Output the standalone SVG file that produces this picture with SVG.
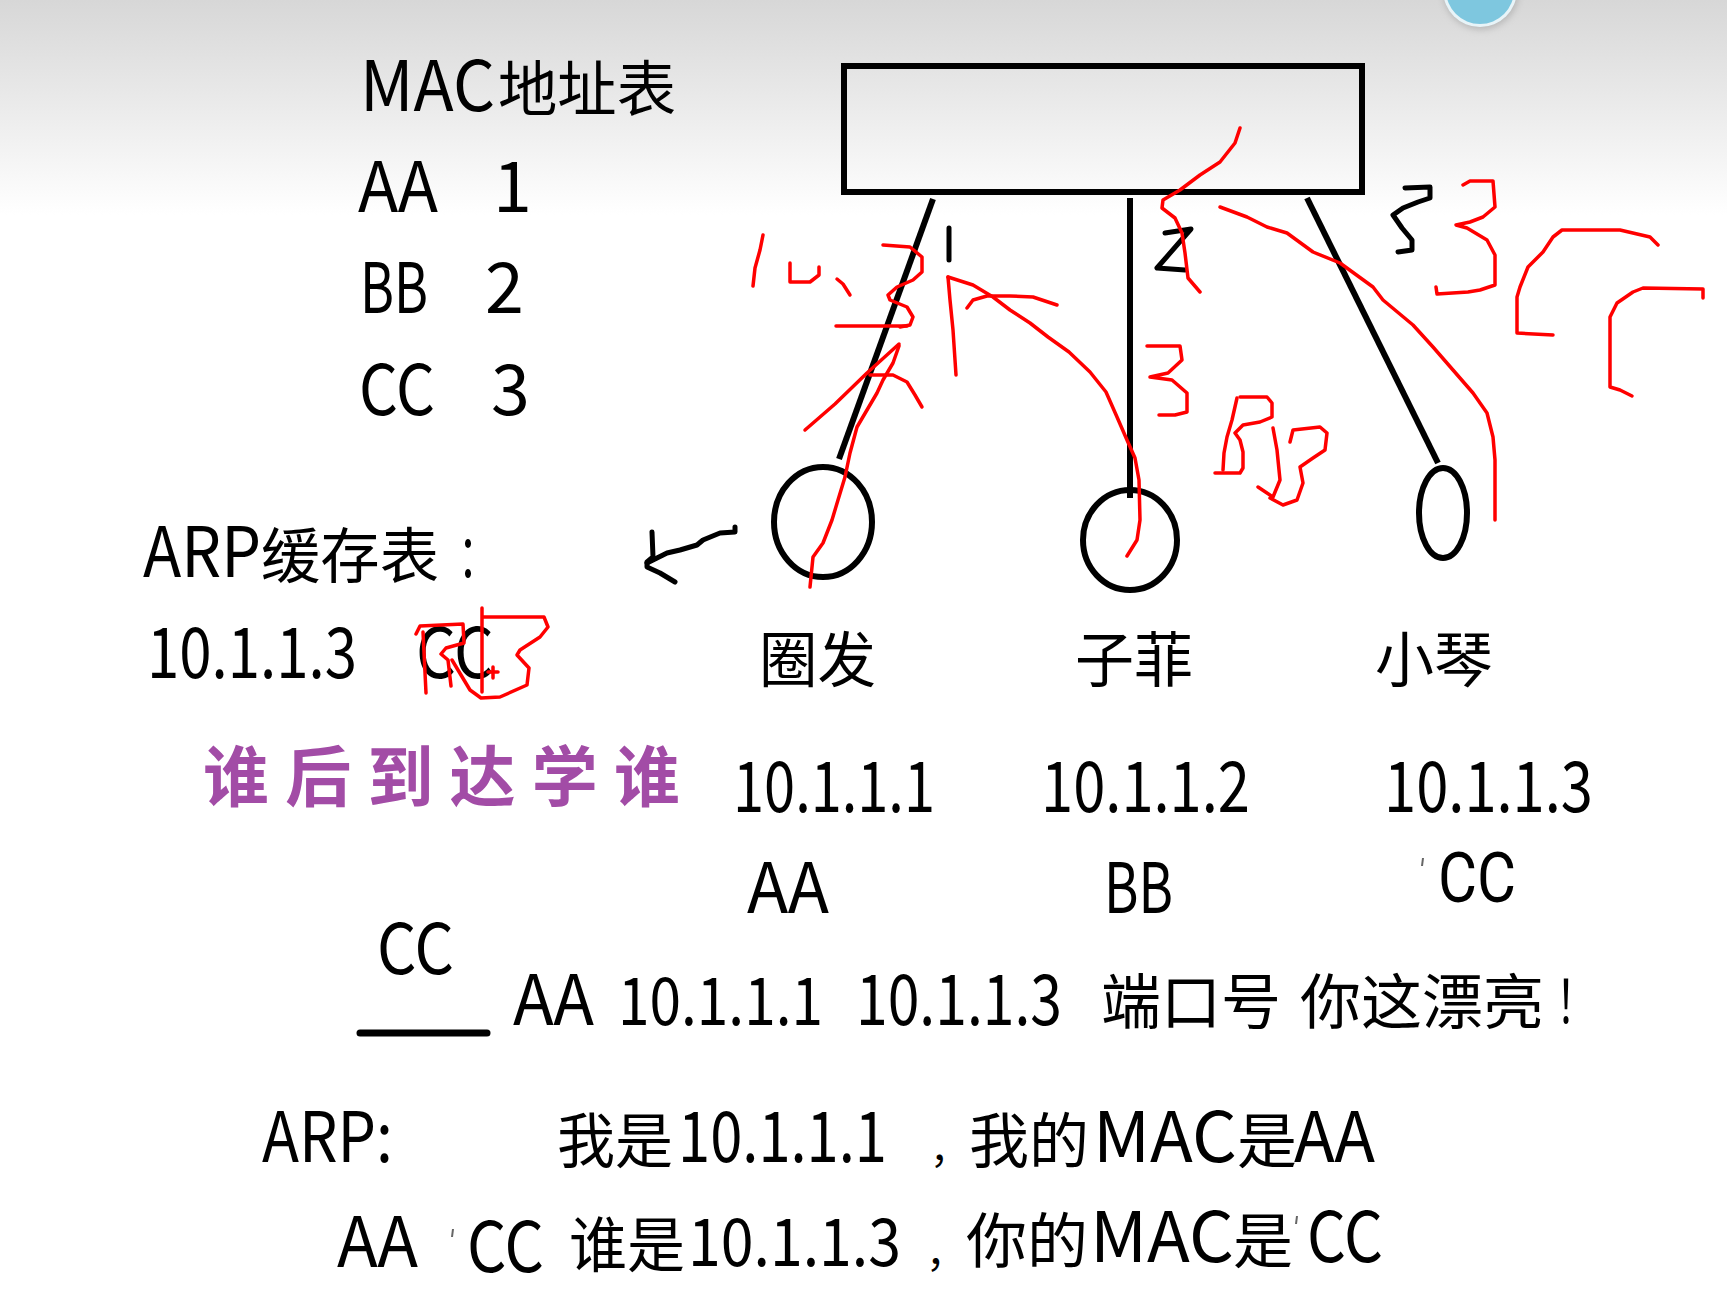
<svg xmlns="http://www.w3.org/2000/svg" width="1727" height="1314" viewBox="0 0 1727 1314">
<defs>
<linearGradient id="bg" gradientUnits="userSpaceOnUse" x1="0" y1="0" x2="0" y2="215">
<stop offset="0" stop-color="#d7d7d7"/>
<stop offset="0.5" stop-color="#ebebeb"/>
<stop offset="1" stop-color="#ffffff"/>
</linearGradient>
<filter id="sh" x="-50%" y="-50%" width="200%" height="200%"><feGaussianBlur stdDeviation="3"/></filter>
</defs>
<style>
.k{font-family:"Noto Sans CJK SC","Liberation Sans",sans-serif;fill:#000;font-size:70px}
.c{font-family:"Noto Sans CJK SC","Liberation Sans",sans-serif;fill:#000;font-size:60px}
.r{font-family:Roboto,"Noto Sans CJK SC",sans-serif;fill:#000;font-size:70px}
.p{font-family:"Noto Sans CJK SC",sans-serif;fill:#a24ca6;font-size:66px;font-weight:bold}
.red{fill:none;stroke:#ff0000;stroke-width:3.5;stroke-linecap:round;stroke-linejoin:round}
.ink{fill:none;stroke:#000;stroke-width:5;stroke-linecap:round;stroke-linejoin:round}
.wire{fill:none;stroke:#000;stroke-width:6;stroke-linecap:butt}
.node{fill:none;stroke:#000;stroke-width:6}
.tick{stroke:#666;stroke-width:2}
</style>
<g id="background">
<rect x="0" y="0" width="1727" height="1314" fill="#fff"/>
<rect x="0" y="0" width="1727" height="215" fill="url(#bg)"/>
<circle cx="1481" cy="-8" r="38" fill="#9a9a9a" opacity="0.5" filter="url(#sh)"/>
<circle cx="1480" cy="-10" r="37" fill="#e8f4f8"/>
<circle cx="1480" cy="-10" r="34" fill="#7ec7df"/>
</g>
<g id="mac-table">
<text class="k" x="360" y="111" textLength="135" lengthAdjust="spacingAndGlyphs">MAC</text>
<text class="c" x="498" y="111" textLength="178" lengthAdjust="spacingAndGlyphs">地址表</text>
<text class="k" x="358" y="212" textLength="80" lengthAdjust="spacingAndGlyphs">AA</text>
<text class="k" x="493" y="212">1</text>
<text class="k" x="360" y="313" textLength="68" lengthAdjust="spacingAndGlyphs">BB</text>
<text class="k" x="485" y="313">2</text>
<text class="k" x="359" y="415" textLength="76" lengthAdjust="spacingAndGlyphs">CC</text>
<text class="k" x="491" y="415">3</text>
</g>
<g id="arp-cache">
<text class="k" x="143" y="577" textLength="118" lengthAdjust="spacingAndGlyphs">ARP</text>
<text class="c" x="261" y="578" textLength="178" lengthAdjust="spacingAndGlyphs">缓存表</text>
<text class="c" x="458" y="578" textLength="40" lengthAdjust="spacingAndGlyphs">：</text>
<text class="k" x="147" y="678" textLength="210" lengthAdjust="spacingAndGlyphs">10.1.1.3</text>
<text class="k" x="416" y="678" textLength="78" lengthAdjust="spacingAndGlyphs">CC</text>
</g>
<g id="slogan">
<text class="p" x="203" y="801" textLength="477" lengthAdjust="spacing">谁后到达学谁</text>
</g>
<g id="switch">
<rect x="844" y="66" width="518" height="126" fill="none" stroke="#000" stroke-width="6"/>
</g>
<g id="connectors">
<path class="wire" d="M933,199 L839,459"/>
<path class="wire" d="M1130,198 L1130,498"/>
<path class="wire" d="M1307,198 L1438,463"/>
</g>
<g id="host-quanfa">
<ellipse class="node" cx="823" cy="522" rx="49" ry="55"/>
<text class="c" x="759" y="682" textLength="117" lengthAdjust="spacingAndGlyphs">圈发</text>
<text class="k" x="733" y="812" textLength="202" lengthAdjust="spacingAndGlyphs">10.1.1.1</text>
<text class="k" x="747" y="913" textLength="82" lengthAdjust="spacingAndGlyphs">AA</text>
</g>
<g id="host-zifei">
<ellipse class="node" cx="1130" cy="540" rx="47" ry="50"/>
<text class="c" x="1075" y="682" textLength="118" lengthAdjust="spacingAndGlyphs">子菲</text>
<text class="k" x="1041" y="812" textLength="209" lengthAdjust="spacingAndGlyphs">10.1.1.2</text>
<text class="k" x="1104" y="913" textLength="69" lengthAdjust="spacingAndGlyphs">BB</text>
</g>
<g id="host-xiaoqin">
<ellipse class="node" cx="1443" cy="513" rx="24" ry="45"/>
<text class="c" x="1375" y="682" textLength="118" lengthAdjust="spacingAndGlyphs">小琴</text>
<text class="k" x="1384" y="812" textLength="209" lengthAdjust="spacingAndGlyphs">10.1.1.3</text>
<text class="r" x="1438" y="902" textLength="78" lengthAdjust="spacingAndGlyphs">CC</text>
<line class="tick" x1="1423" y1="858" x2="1422" y2="866"/>
</g>
<g id="frame">
<text class="k" x="377" y="974" textLength="77" lengthAdjust="spacingAndGlyphs">CC</text>
<line x1="360" y1="1033" x2="487" y2="1033" stroke="#000" stroke-width="7" stroke-linecap="round"/>
<text class="k" x="513" y="1025" textLength="81" lengthAdjust="spacingAndGlyphs">AA</text>
<text class="k" x="618" y="1025" style="font-size:66px" textLength="205" lengthAdjust="spacingAndGlyphs">10.1.1.1</text>
<text class="k" x="856" y="1025" textLength="206" lengthAdjust="spacingAndGlyphs">10.1.1.3</text>
<text class="c" x="1101" y="1024" textLength="180" lengthAdjust="spacingAndGlyphs">端口号</text>
<text class="c" x="1300" y="1024" textLength="244" lengthAdjust="spacingAndGlyphs">你这漂亮</text>
<text class="c" x="1556" y="1024" textLength="40" lengthAdjust="spacingAndGlyphs">！</text>
</g>
<g id="arp-messages">
<text class="k" x="262" y="1162" textLength="131" lengthAdjust="spacingAndGlyphs">ARP:</text>
<text class="c" x="557" y="1163" textLength="116" lengthAdjust="spacingAndGlyphs">我是</text>
<text class="k" x="678" y="1162" textLength="209" lengthAdjust="spacingAndGlyphs">10.1.1.1</text>
<text class="c" x="930" y="1163" style="font-size:39px">，</text>
<text class="c" x="969" y="1163" textLength="120" lengthAdjust="spacingAndGlyphs">我的</text>
<text class="k" x="1093" y="1162" textLength="144" lengthAdjust="spacingAndGlyphs">MAC</text>
<text class="c" x="1237" y="1163">是</text>
<text class="k" x="1294" y="1162" textLength="81" lengthAdjust="spacingAndGlyphs">AA</text>
<text class="k" x="337" y="1267" textLength="81" lengthAdjust="spacingAndGlyphs">AA</text>
<line class="tick" x1="453" y1="1229" x2="452" y2="1237"/>
<text class="k" x="467" y="1272" textLength="77" lengthAdjust="spacingAndGlyphs">CC</text>
<text class="c" x="569" y="1267" textLength="116" lengthAdjust="spacingAndGlyphs">谁是</text>
<text class="k" x="688" y="1266" style="font-size:66px" textLength="213" lengthAdjust="spacingAndGlyphs">10.1.1.3</text>
<text class="c" x="926" y="1267" style="font-size:40px">，</text>
<text class="c" x="966" y="1263" textLength="122" lengthAdjust="spacingAndGlyphs">你的</text>
<text class="k" x="1090" y="1262" textLength="144" lengthAdjust="spacingAndGlyphs">MAC</text>
<text class="c" x="1233" y="1263">是</text>
<line class="tick" x1="1297" y1="1216" x2="1296" y2="1224"/>
<text class="k" x="1307" y="1262" textLength="76" lengthAdjust="spacingAndGlyphs">CC</text>
</g>
<g id="black-ink">
<path class="ink" d="M949,228 L949,260"/>
<path class="ink" d="M1165,233 L1191,229 L1157,268 L1185,270"/>
<path class="ink" d="M1405,188 L1430,187 L1430,198 L1418,202 L1403,208 L1393,215 L1402,228 L1412,240 L1412,250 L1398,252"/>
<path class="ink" d="M735,527 L735,532 L720,533 L703,540 L697,545 L680,550 L667,553 L653,560 L647,563"/>
<path class="ink" d="M652,532 L653,557 L647,562 L647,567 L660,573 L675,582"/>
</g>
<g id="red-ink">
<path class="red" d="M763,235 L760,250 L755,268 L753,286"/>
<path class="red" d="M790,263 L790,282 L810,282 L819,275 L819,267"/>
<path class="red" d="M837,279 L843,284 L850,295"/>
<path class="red" d="M883,245 L910,247 L922,257 L922,272 L913,280 L897,287 L888,295 L890,300 L907,307 L913,317 L910,325 L900,327"/>
<path class="red" d="M836,326 L907,326"/>
<path class="red" d="M805,430 L835,404 L867,373 L899,344"/>
<path class="red" d="M899,346 L893,363 L883,380 L877,393 L867,410 L857,427 L850,453 L845,477 L838,500 L832,520 L823,543 L813,557 L810,587"/>
<path class="red" d="M870,375 L893,375 L907,382 L915,395 L922,407"/>
<path class="red" d="M956,375 L953,330 L950,300 L948,277"/>
<path class="red" d="M1127,556 L1137,540 L1140,520 L1139,480 L1135,458 L1127,440 L1117,417 L1106,392 L1090,372 L1069,352 L1048,337 L1030,323 L1010,310 L993,297 L973,285 L948,277"/>
<path class="red" d="M967,308 L973,300 L987,296 L1010,296 L1033,297 L1057,305"/>
<path class="red" d="M1147,346 L1180,346 L1182,360 L1168,373 L1150,377 L1172,380 L1187,393 L1187,412 L1175,415 L1159,415"/>
<path class="red" d="M1240,128 L1235,143 L1220,162 L1200,175 L1180,190 L1163,200 L1162,208 L1175,218 L1182,233 L1185,253 L1188,278 L1200,292"/>
<path class="red" d="M1220,207 L1247,217 L1267,227 L1287,233 L1313,252 L1340,263 L1373,287 L1383,300 L1413,325 L1433,347 L1453,370 L1473,393 L1487,413 L1493,437 L1495,460 L1495,520"/>
<path class="red" d="M1237,398 L1232,420 L1227,437 L1224,453 L1223,470"/>
<path class="red" d="M1240,397 L1267,397 L1272,403 L1272,417 L1260,422 L1243,425 L1235,433 L1240,440 L1243,452 L1243,468 L1240,473 L1215,473"/>
<path class="red" d="M1273,428 L1277,450 L1280,480 L1273,497 L1258,487"/>
<path class="red" d="M1290,442 L1293,430 L1320,427 L1327,433 L1325,450 L1313,458 L1300,467 L1303,483 L1297,500 L1283,505 L1270,498"/>
<path class="red" d="M1463,185 L1470,181 L1493,181 L1495,207 L1483,217 L1470,222 L1456,225 L1467,228 L1487,240 L1495,255 L1495,285 L1480,290 L1468,292 L1437,294 L1436,287"/>
<path class="red" d="M1658,245 L1650,237 L1620,230 L1562,230 L1553,237 L1543,252 L1528,267 L1520,287 L1517,297 L1517,333 L1553,335"/>
<path class="red" d="M1703,298 L1703,289 L1643,288 L1633,292 L1617,303 L1610,317 L1610,387 L1620,390 L1632,396"/>
<path class="red" d="M426,693 L423,632 M416,634 L420,626 L463,624 L464,643 L446,648 L441,654 L448,660 L451,686 M452,660 L470,690 L481,698 L500,697 L527,685 L529,668 L517,655 L520,650 L540,637 L548,627 L544,617 L483,617 M482,608 L482,692 M488,672 L498,672 M493,667 L493,678"/>
</g>
</svg>
